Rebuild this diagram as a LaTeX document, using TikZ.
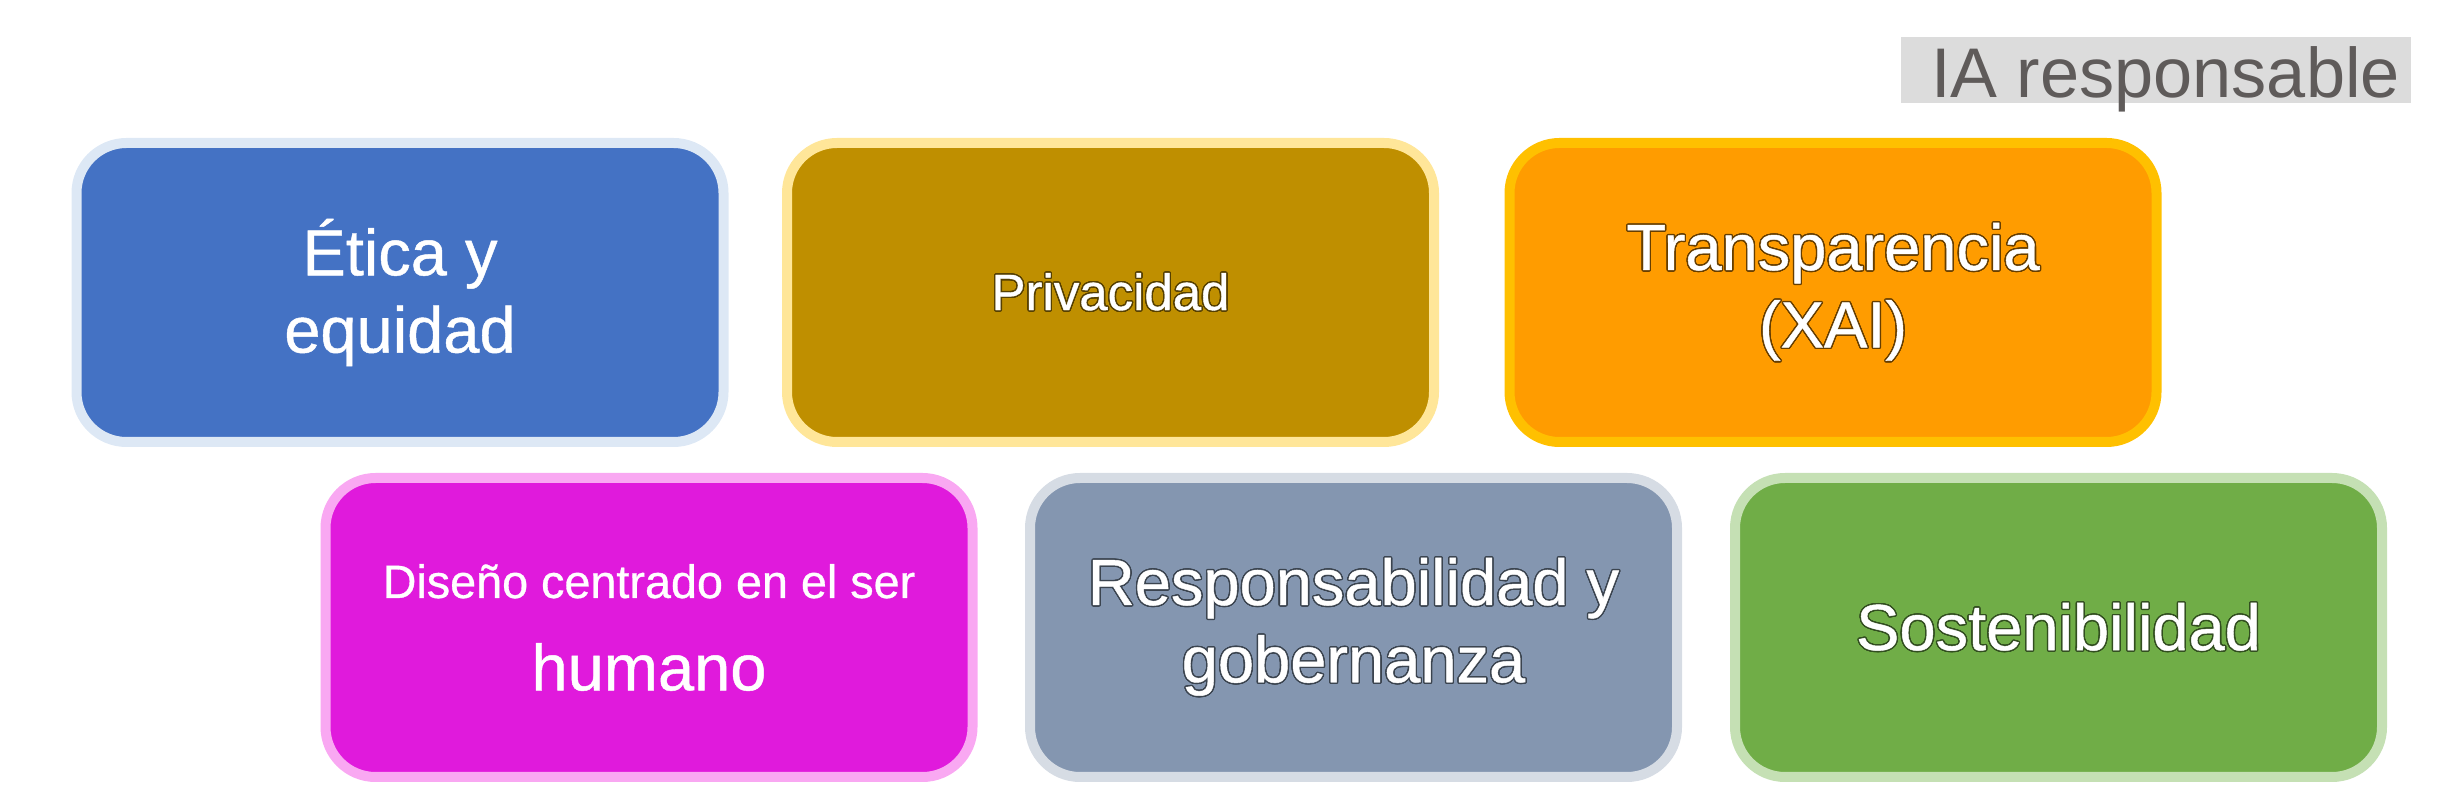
\documentclass[tikz,border=0pt]{standalone}
\usepackage{fontspec}
\setmainfont{Liberation Sans}
\newfontfamily\boxfont{Liberation Sans}[FakeBold=0.7]
\usepackage{contour}
\contourlength{0.4pt}
\usetikzlibrary{positioning}
\definecolor{etblue}{HTML}{4472C4}
\definecolor{etblueb}{HTML}{DDE8F5}
\definecolor{prgold}{HTML}{BF8F00}
\definecolor{prgoldb}{HTML}{FFE699}
\definecolor{trorange}{HTML}{FF9C00}
\definecolor{trorangeb}{HTML}{FFC000}
\definecolor{dsmag}{HTML}{E01ADC}
\definecolor{dsmagb}{HTML}{F9A8F2}
\definecolor{rsgrey}{HTML}{8496B0}
\definecolor{rsgreyb}{HTML}{D6DCE4}
\definecolor{sogreen}{HTML}{70AD47}
\definecolor{sogreenb}{HTML}{C5E0B4}
\definecolor{titlegrey}{HTML}{5F5B5A}
\definecolor{titlebg}{HTML}{DCDCDC}
\tikzset{
  areanode/.style={draw, rounded corners=5mm, line width=1mm, minimum width=64.7mm,
    minimum height=29.9mm, align=center, text=white, font=\boxfont\fontsize{18.5}{22}\selectfont},
  titlenode/.style={text=titlegrey, font=\fontsize{20}{24}\selectfont, inner sep=0pt}
}
\begin{document}
\begin{tikzpicture}
  \useasboundingbox (0,0) rectangle (24.59,-8.12);
  \fill[titlebg] (19.01,-0.37) rectangle (24.11,-1.03);
  \node[titlenode, anchor=base] (title) at (21.655,-0.98) {IA responsable};

  \node[areanode, fill=etblue, draw=etblueb] (etica) at (4.00,-2.925) {Ética y\\equidad};
  \node[areanode, fill=prgold, draw=prgoldb, font=\boxfont\fontsize{14.5}{18}\selectfont] (privacidad) at (11.105,-2.925) {\contour{prgold!45!black}{Privacidad}};
  \node[areanode, fill=trorange, draw=trorangeb] (transparencia) at (18.33,-2.925) {\contour{trorange!40!black}{Transparencia}\\\contour{trorange!40!black}{(XAI)}};

  \node[areanode, fill=dsmag, draw=dsmagb] (diseno) at (6.49,-6.275) {{\fontsize{13.3}{16}\selectfont Diseño centrado en el ser}\\[1.5mm]humano};
  \node[areanode, fill=rsgrey, draw=rsgreyb] (responsabilidad) at (13.535,-6.275) {\contour{rsgrey!45!black}{Responsabilidad y}\\\contour{rsgrey!45!black}{gobernanza}};
  \node[areanode, fill=sogreen, draw=sogreenb] (sostenibilidad) at (20.585,-6.275) {\contour{sogreen!45!black}{Sostenibilidad}};
\end{tikzpicture}
\end{document}
